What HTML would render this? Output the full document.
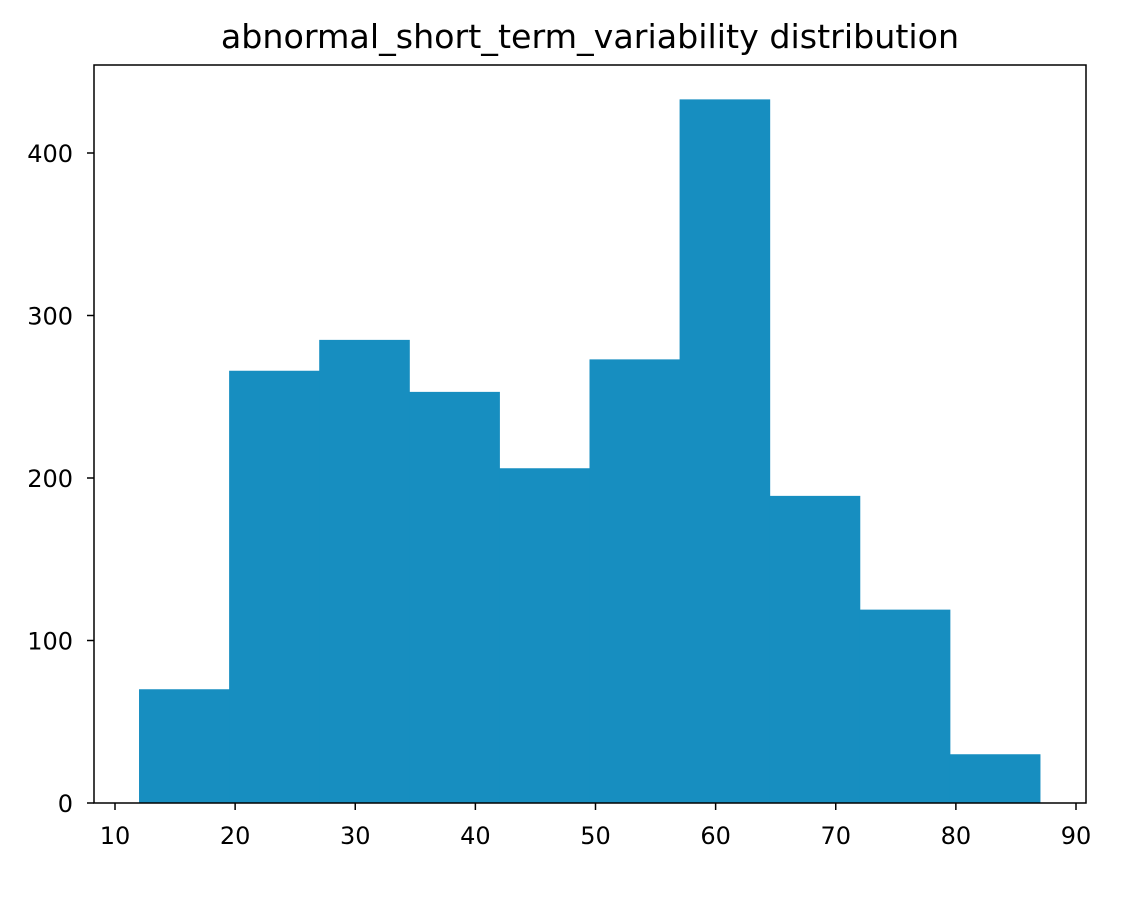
<!DOCTYPE html>
<html><head><meta charset="utf-8"><style>
body{margin:0;background:#fff;}
svg text{font-family:"DejaVu Sans","Liberation Sans",sans-serif;fill:#000;}
</style></head><body>
<svg id="chart" width="1140" height="902">
<rect width="1140" height="902" fill="#fff"/>
<text x="590" y="48" font-size="33.3" text-anchor="middle">abnormal_short_term_variability distribution</text>
<g id="bars"></g>
<g id="xticks"></g>
<g id="yticks"></g>
<rect x="94" y="65" width="992" height="738" fill="none" stroke="#000" stroke-width="1.5"/>
</svg>
<script>
const binStart = 12;
const binWidth = 7.5;
const counts = [70, 266, 285, 253, 206, 273, 433, 189, 119, 30];
const xTicks = [10, 20, 30, 40, 50, 60, 70, 80, 90];
const yTicks = [0, 100, 200, 300, 400];

const NS = "http://www.w3.org/2000/svg";
function xs(v){ return 115 + (v - 10) * (1076 - 115) / 80; }
function ys(v){ return 803 - v * 1.625; }
const bars = document.getElementById('bars');
counts.forEach((c, i) => {
  const x0 = xs(binStart + i * binWidth), x1 = xs(binStart + (i + 1) * binWidth);
  const r = document.createElementNS(NS, 'rect');
  r.setAttribute('x', x0); r.setAttribute('width', x1 - x0 + 0.5);
  r.setAttribute('y', ys(c)); r.setAttribute('height', ys(0) - ys(c));
  r.setAttribute('fill', '#178ec0');
  
  
  bars.appendChild(r);
});
const xg = document.getElementById('xticks');
xTicks.forEach(t => {
  const x = xs(t);
  const l = document.createElementNS(NS, 'line');
  l.setAttribute('x1', x); l.setAttribute('x2', x); l.setAttribute('y1', 803); l.setAttribute('y2', 810);
  l.setAttribute('stroke', '#000'); l.setAttribute('stroke-width', '1.5');
  
  
  xg.appendChild(l);
  const tx = document.createElementNS(NS, 'text');
  tx.setAttribute('x', x); tx.setAttribute('y', 844); tx.setAttribute('font-size', '24'); tx.setAttribute('text-anchor', 'middle');
  tx.textContent = t;
  
  
  xg.appendChild(tx);
});
const yg = document.getElementById('yticks');
yTicks.forEach(t => {
  const y = ys(t);
  const l = document.createElementNS(NS, 'line');
  l.setAttribute('x1', 87); l.setAttribute('x2', 94); l.setAttribute('y1', y); l.setAttribute('y2', y);
  l.setAttribute('stroke', '#000'); l.setAttribute('stroke-width', '1.5');
  
  
  yg.appendChild(l);
  const tx = document.createElementNS(NS, 'text');
  tx.setAttribute('x', 73); tx.setAttribute('y', y + 9); tx.setAttribute('font-size', '24'); tx.setAttribute('text-anchor', 'end');
  tx.textContent = t;
  
  
  yg.appendChild(tx);
});
</script>
</body></html>
